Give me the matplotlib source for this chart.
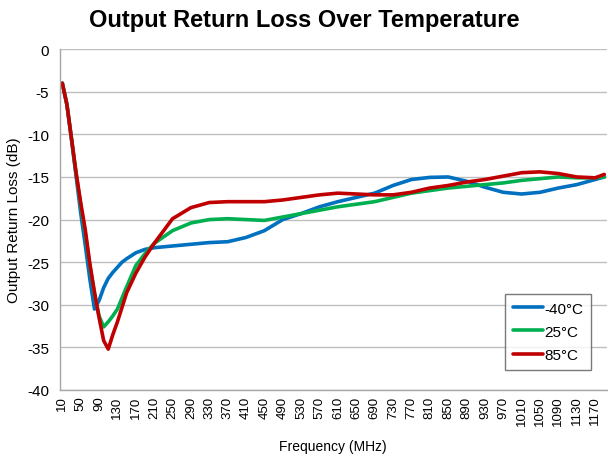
import numpy as np
import matplotlib
matplotlib.use("Agg")
import matplotlib.pyplot as plt

plt.rcParams["font.family"] = ["Liberation Sans", "DejaVu Sans"]

# frequency points (MHz) shared by all three curves
freq = [10, 20, 30, 40, 50, 60, 70, 80, 90, 100, 110, 120, 130, 140, 150,
        170, 190, 210, 250, 290, 330, 370, 410, 450, 490, 530, 570, 610,
        650, 690, 730, 770, 810, 850, 890, 930, 970, 1010, 1050, 1090,
        1130, 1170, 1190]

loss_m40 = [-4.0, -6.5, -10.6, -14.9, -19.2, -23.0, -27.0, -30.5, -29.5, -28.0,
            -26.9, -26.2, -25.6, -25.0, -24.6, -23.9, -23.5, -23.3, -23.1,
            -22.9, -22.7, -22.6, -22.1, -21.3, -20.0, -19.3, -18.5, -17.9,
            -17.4, -16.9, -16.0, -15.3, -15.05, -15.0, -15.5, -16.2, -16.8,
            -17.0, -16.8, -16.3, -15.9, -15.3, -15.0]

loss_25 = [-4.0, -6.5, -10.5, -14.6, -18.3, -21.6, -25.4, -28.7, -31.3, -32.6,
           -32.0, -31.3, -30.5, -29.2, -27.9, -25.4, -24.0, -22.8, -21.3,
           -20.4, -20.0, -19.9, -20.0, -20.1, -19.7, -19.3, -18.9, -18.5,
           -18.2, -17.9, -17.4, -16.9, -16.6, -16.3, -16.1, -15.9, -15.7,
           -15.4, -15.2, -15.0, -15.1, -15.1, -15.0]

loss_85 = [-4.0, -6.5, -10.5, -14.5, -18.0, -21.2, -25.2, -28.5, -31.5, -34.2,
           -35.2, -33.5, -32.0, -30.3, -28.6, -26.3, -24.4, -22.8, -19.9,
           -18.6, -18.0, -17.9, -17.9, -17.9, -17.7, -17.4, -17.1, -16.9,
           -17.0, -17.1, -17.1, -16.8, -16.3, -16.0, -15.6, -15.3, -14.9,
           -14.5, -14.4, -14.6, -15.0, -15.1, -14.7]

tick_freqs = list(range(10, 1171, 40))
y_ticks = [0, -5, -10, -15, -20, -25, -30, -35, -40]

fig = plt.figure(figsize=(6.08, 4.60), dpi=100)
ax = fig.add_axes([0.0987, 0.150, 0.899, 0.741])

ax.plot(freq, loss_m40, color="#0070C0", lw=2.6, label="-40°C", solid_capstyle="round")
ax.plot(freq, loss_25, color="#00B050", lw=2.6, label="25°C", solid_capstyle="round")
ax.plot(freq, loss_85, color="#C00000", lw=2.6, label="85°C", solid_capstyle="round")

ax.set_xlim(5, 1195)
ax.set_ylim(-40, 0)
ax.set_xticks(tick_freqs)
ax.set_xticklabels([str(t) for t in tick_freqs], rotation=90, fontsize=9.5)
ax.set_yticks(y_ticks)
ax.set_yticklabels([str(t) for t in y_ticks], fontsize=11)
ax.tick_params(axis="both", length=0, colors="#000000")
ax.tick_params(axis="y", pad=8)
ax.tick_params(axis="x", pad=4)

ax.grid(axis="y", color="#BFBFBF", lw=1)
ax.set_axisbelow(True)
for side in ["top", "right"]:
    ax.spines[side].set_visible(False)
for side in ["left", "bottom"]:
    ax.spines[side].set_color("#A6A6A6")
    ax.spines[side].set_linewidth(1)

ax.set_xlabel("Frequency (MHz)", fontsize=10, labelpad=10)
ax.set_ylabel("Output Return Loss (dB)", fontsize=11, labelpad=4)

fig.suptitle("Output Return Loss Over Temperature", fontsize=17, fontweight="bold",
             x=0.5, y=0.98)

leg = ax.legend(loc="lower right", bbox_to_anchor=(0.972, 0.06), fontsize=11,
                frameon=True, fancybox=False, handlelength=2.0, handletextpad=0.1,
                borderpad=0.5, labelspacing=0.6, borderaxespad=0)
leg.get_frame().set_edgecolor("#595959")
leg.get_frame().set_linewidth(1)

fig.savefig("out.png", dpi=100)
